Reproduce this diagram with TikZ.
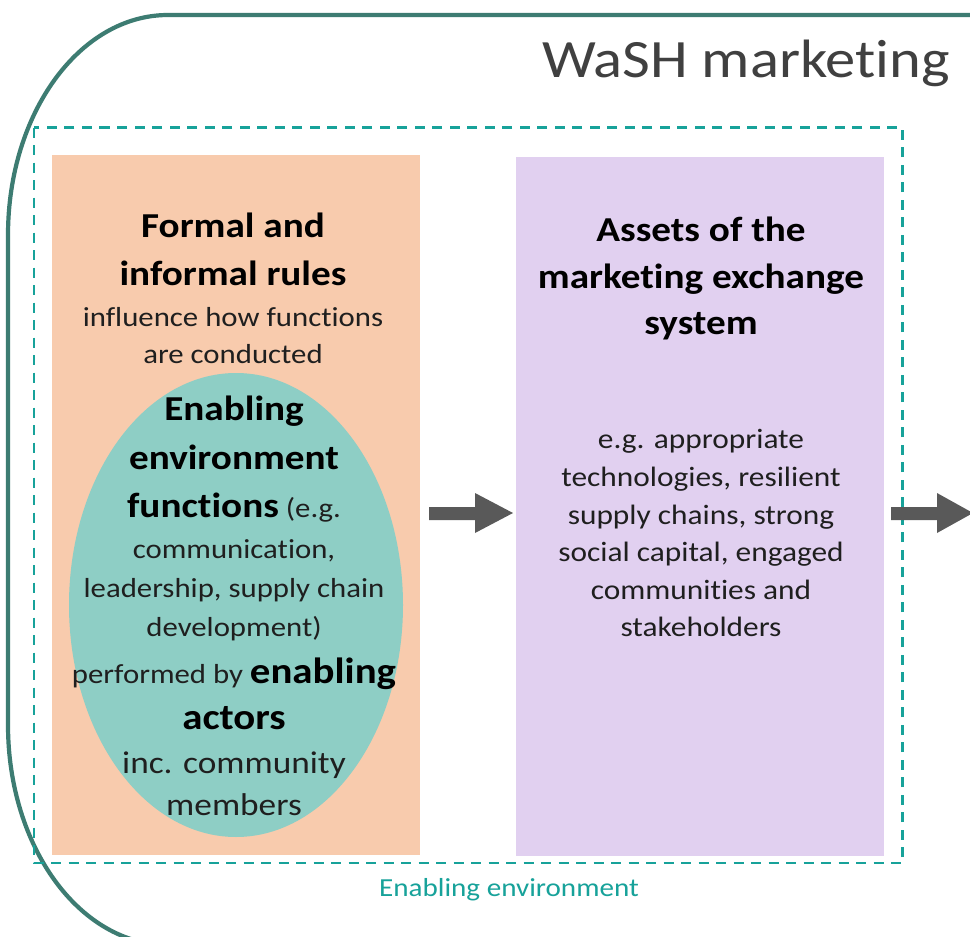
\documentclass[tikz,border=0pt]{standalone}
\usepackage{fontspec}
\setmainfont{Carlito}[FakeStretch=1.12,Ligatures=NoCommon]
\definecolor{frameteal}{HTML}{3D7C72}
\definecolor{dashteal}{HTML}{17A29A}
\definecolor{orangefill}{HTML}{F8CBAD}
\definecolor{purplefill}{HTML}{E1D0F0}
\definecolor{ellfill}{HTML}{8ECEC5}
\definecolor{arrowgrey}{HTML}{595959}
\definecolor{titlegrey}{HTML}{404040}
\definecolor{bodytext}{HTML}{1F1F1F}
\tikzset{
  boldtxt/.style={anchor=base, inner sep=0pt, text=black, font=\fontsize{35}{42}\selectfont\bfseries},
  regtxt/.style={anchor=base, inner sep=0pt, text=bodytext, font=\fontsize{27.5}{33}\selectfont},
  midtxt/.style={anchor=base, inner sep=0pt, text=bodytext, font=\fontsize{31.5}{37}\selectfont},
  blockarrow/.style={fill=arrowgrey, draw=none},
}
\begin{document}
\begin{tikzpicture}[x=1pt,y=-1pt]
\useasboundingbox (0,0) rectangle (970,937);
\clip (0,0) rectangle (970,937);
\fill[white] (0,0) rectangle (970,937);
% outer frame
\draw[frameteal, line width=4.2pt]
  (980,15) -- (168,15) .. controls (79.6,15) and (8,113.5) .. (8,235)
  -- (8,725) .. controls (8,846.5) and (79.6,945) .. (168,945) -- (980,945);
\node[anchor=base, inner sep=0pt, text=titlegrey, font=\fontsize{54}{60}\selectfont] (title) at (746,77) {WaSH marketing};
% dashed enabling environment box
\draw[dashteal, line width=2.8pt, dash pattern=on 10pt off 7.5pt] (34,127.5) rectangle (902.5,863);
\node[anchor=base, inner sep=0pt, text=dashteal, font=\fontsize{26}{30}\selectfont] (envlabel) at (509,896.5) {Enabling environment};
% panels
\fill[orangefill] (52,155) rectangle (420,855);
\fill[purplefill] (516,157) rectangle (884,856);
\fill[ellfill] (236,605) ellipse [x radius=167, y radius=232];
% left panel text
\node[boldtxt] (r1) at (233,237.7) {Formal and};
\node[boldtxt] (r2) at (233,285.7) {informal rules};
\node[regtxt] (r3) at (233,326.7) {influence how functions};
\node[regtxt] (r4) at (233,363) {are conducted};
\node[boldtxt] (e1) at (234,420.7) {Enabling};
\node[boldtxt] (e2) at (234,469) {environment};
\node[regtxt] (e3) at (234,517.7) {{\fontsize{35}{42}\selectfont\bfseries\color{black}functions} (e.g.};
\node[regtxt] (e4) at (234,558.3) {communication,};
\node[regtxt] (e5) at (234,597.3) {leadership, supply chain};
\node[regtxt] (e6) at (234,636) {development)};
\node[regtxt] (e7) at (234,683) {performed by {\fontsize{36.5}{42}\selectfont\bfseries\color{black}enabling}};
\node[boldtxt, font=\fontsize{36.5}{42}\selectfont\bfseries] (e8) at (234,729) {actors};
\node[midtxt] (e9) at (234,773) {inc. community};
\node[midtxt] (e10) at (234,815) {members};
% right panel text
\node[boldtxt] (a1) at (701,241) {Assets of the};
\node[boldtxt] (a2) at (701,288.5) {marketing exchange};
\node[boldtxt] (a3) at (701,334) {system};
\node[regtxt, font=\fontsize{28}{33}\selectfont] (b1) at (701,448) {e.g. appropriate};
\node[regtxt, font=\fontsize{28}{33}\selectfont] (b2) at (701,486) {technologies, resilient};
\node[regtxt, font=\fontsize{28}{33}\selectfont] (b3) at (701,524) {supply chains, strong};
\node[regtxt, font=\fontsize{28}{33}\selectfont] (b4) at (701,561) {social capital, engaged};
\node[regtxt, font=\fontsize{28}{33}\selectfont] (b5) at (701,599) {communities and};
\node[regtxt, font=\fontsize{28}{33}\selectfont] (b6) at (701,636) {stakeholders};
% block arrows
\fill[blockarrow] (429,507) -- (475,507) -- (475,493) -- (513,513) -- (475,533) -- (475,520) -- (429,520) -- cycle;
\fill[blockarrow] (891,507) -- (937,507) -- (937,493) -- (973,513) -- (937,533) -- (937,520) -- (891,520) -- cycle;
\end{tikzpicture}
\end{document}
